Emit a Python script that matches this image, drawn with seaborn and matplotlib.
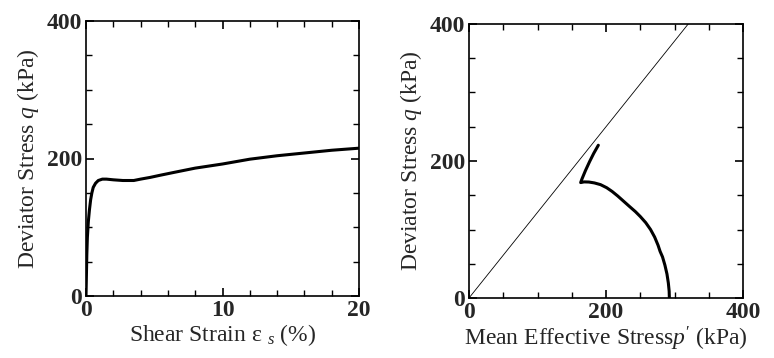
import matplotlib
matplotlib.use("Agg")
import matplotlib.pyplot as plt
import seaborn as sns
import pandas as pd
from matplotlib.ticker import MultipleLocator

# Data: stress-strain curve
strain = [0.0, 0.03, 0.06, 0.1, 0.17, 0.25, 0.34, 0.43, 0.53, 0.7, 0.9, 1.2, 1.5, 2.0, 2.7,
          3.5, 4.0, 4.7, 5.4, 6.5, 8.0, 10.0, 12.0, 14.0, 16.0, 18.0, 20.0]
q_strain = [0, 30, 60, 85, 108, 125, 140, 150, 158, 164, 168, 170, 170, 169, 168,
            168, 170, 172.5, 175.5, 180, 186, 192, 199, 204, 208, 212, 215]

# Data: effective stress path
p_path = [292.5, 292.2, 291, 289, 286, 282.5, 279, 276, 271, 265, 258, 250, 243, 235, 226,
          217, 209, 201, 192, 183, 175, 168, 163, 165, 170, 176, 182, 188.8]
q_path = [0, 10, 22, 35, 48, 60, 68, 77, 89, 100, 110, 119, 126, 133, 141,
          149, 155.5, 161, 165.5, 168, 169.3, 169.5, 168.5, 174, 186, 199, 211, 223]

# Critical state line
csl_p = [0, 400]
csl_q = [0, 500]

sns.set_style("ticks")
plt.rcParams["font.family"] = ["Liberation Serif", "DejaVu Serif"]
plt.rcParams["mathtext.fontset"] = "custom"
plt.rcParams["mathtext.rm"] = "Liberation Serif"
plt.rcParams["mathtext.it"] = "Liberation Serif:italic"
plt.rcParams["mathtext.bf"] = "Liberation Serif:bold"

fig = plt.figure(figsize=(7.74, 3.58), dpi=100)
ax1 = fig.add_axes([86/774, 62/358, 273/774, 275/358])
ax2 = fig.add_axes([469/774, 60/358, 274/774, 274/358])

df1 = pd.DataFrame({"strain": strain, "q": q_strain})
sns.lineplot(data=df1, x="strain", y="q", ax=ax1, color="black", linewidth=2.2, sort=False)

df_csl = pd.DataFrame({"p": csl_p, "q": csl_q})
sns.lineplot(data=df_csl, x="p", y="q", ax=ax2, color="black", linewidth=0.6, sort=False)
df2 = pd.DataFrame({"p": p_path, "q": q_path})
sns.lineplot(data=df2, x="p", y="q", ax=ax2, color="black", linewidth=2.2, sort=False)

ax1.set_xlim(0, 20)
ax1.set_ylim(0, 400)
ax2.set_xlim(0, 400)
ax2.set_ylim(0, 400)

ax1.xaxis.set_major_locator(MultipleLocator(10))
ax1.xaxis.set_minor_locator(MultipleLocator(2))
ax2.xaxis.set_major_locator(MultipleLocator(200))
ax2.xaxis.set_minor_locator(MultipleLocator(50))
for ax in (ax1, ax2):
    ax.yaxis.set_major_locator(MultipleLocator(200))
    ax.yaxis.set_minor_locator(MultipleLocator(50))
    ax.tick_params(which="both", direction="in", top=True, right=True, color="black")
    ax.tick_params(which="major", length=6, width=1.2, labelsize=17, pad=3)
    ax.tick_params(which="minor", length=4, width=1.0)
    for lab in ax.get_xticklabels() + ax.get_yticklabels():
        lab.set_fontweight("bold")
    for s in ax.spines.values():
        s.set_linewidth(1.2)
        s.set_color("black")
    ax.set_ylabel("Deviator Stress $q$ (kPa)", fontsize=17, labelpad=4)

ax1.set_xlabel("Shear Strain ε $_s$ (%)", fontsize=17, labelpad=1)
ax2.set_xlabel("Mean Effective Stress$p'$ (kPa)", fontsize=17, labelpad=1)

fig.savefig("out.png", dpi=100, facecolor="white")
